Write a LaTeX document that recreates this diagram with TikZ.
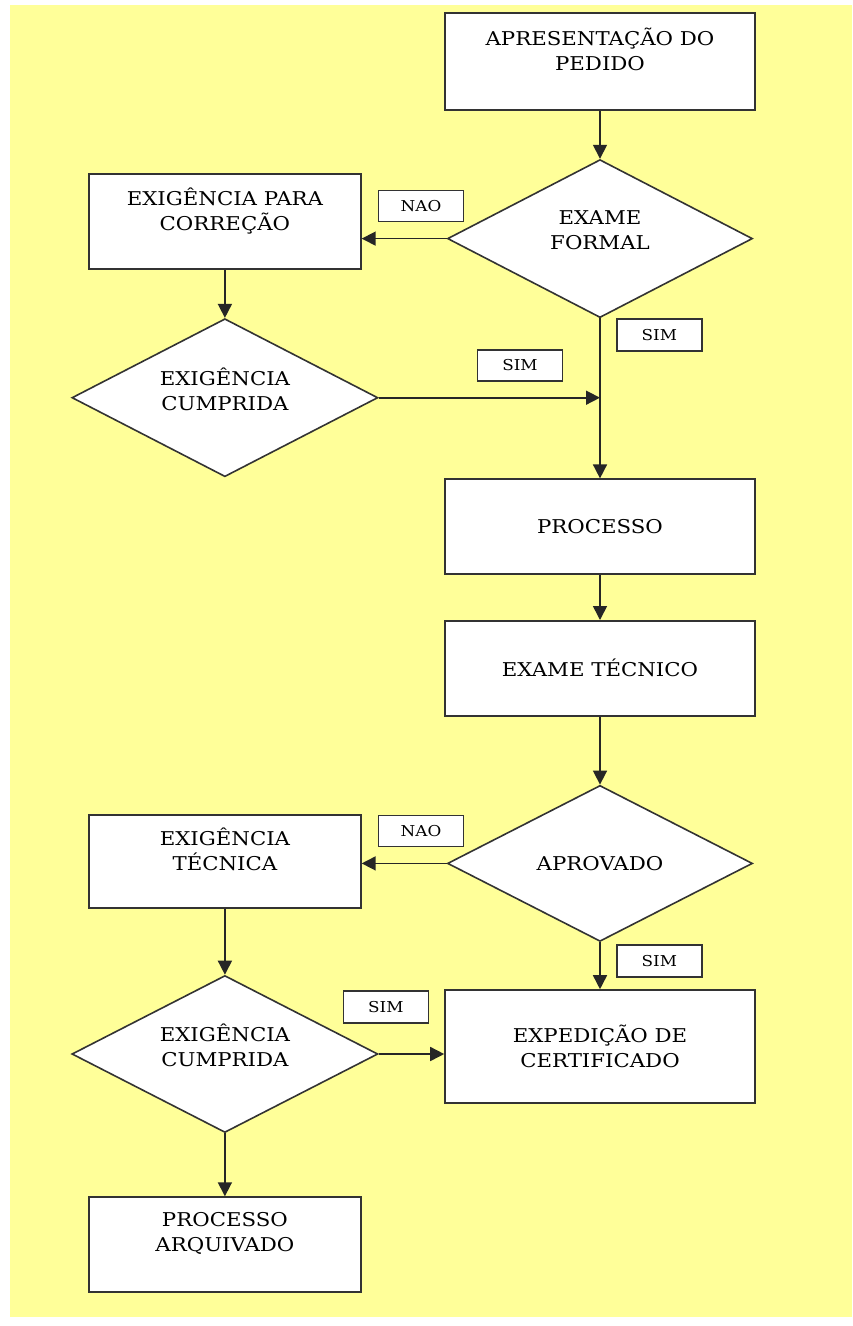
\documentclass[tikz,border=0pt]{standalone}
\usepackage{fontspec}
\setmainfont{DejaVu Serif}[FakeStretch=1.12]
\usepackage{tikz}
\usetikzlibrary{shapes.geometric,arrows.meta}
\usetikzlibrary{positioning}
\definecolor{fundo}{RGB}{255,255,153}
\tikzset{etapa/.style={draw=black!80, line width=1.6pt, fill=white, rectangle, minimum width=310pt, minimum height=95pt, align=center, font=\fontsize{19}{25}\selectfont}}
\tikzset{decisao/.style={draw=black!80, line width=1.6pt, fill=white, diamond, aspect=2, inner sep=0pt, minimum width=305pt, minimum height=158pt, align=center, font=\fontsize{19}{25}\selectfont}}
\tikzset{resposta/.style={draw=black!80, line width=1.6pt, fill=white, rectangle, minimum width=85pt, minimum height=31pt, inner sep=0pt, font=\fontsize{15}{18}\selectfont}}
\tikzset{fluxo/.style={line width=1.6pt, draw=black!85}}

\begin{document}
\begin{tikzpicture}[x=1pt, y=1pt, >={Triangle[length=14pt,width=14pt]}]
\useasboundingbox (0,0) rectangle (852,-1326);
\fill[fundo] (10,-5) rectangle (852,-1317);
% coluna principal
\node[etapa, minimum height=97pt] (pedido) at (600,-61.5) {APRESENTAÇÃO DO\\PEDIDO\\\mbox{}};
\node[decisao, below=48pt of pedido] (exame) {EXAME\\FORMAL\\[-8pt]\mbox{}};
\node[etapa, below=160pt of exame] (processo) {PROCESSO};
\node[etapa, below=45pt of processo] (tecnico) {EXAME TÉCNICO};
\node[decisao, below=68pt of tecnico, minimum height=156pt] (aprovado) {APROVADO};
\node[etapa, below=47pt of aprovado, minimum height=113pt] (expedicao) {EXPEDIÇÃO DE\\CERTIFICADO};
% coluna da esquerda
\node[etapa, left=85pt of exame, yshift=17pt, minimum width=272pt] (correcao) {EXIGÊNCIA PARA\\CORREÇÃO\\\mbox{}};
\node[decisao, below=48pt of correcao, minimum width=306pt] (cumprida1) {EXIGÊNCIA\\CUMPRIDA\\[-8pt]\mbox{}};
\node[etapa, left=85pt of aprovado, yshift=2pt, minimum width=272pt, minimum height=93pt] (exigtec) {EXIGÊNCIA\\TÉCNICA\\\mbox{}};
\node[decisao, below=66pt of exigtec, minimum width=306pt, minimum height=157pt] (cumprida2) {EXIGÊNCIA\\CUMPRIDA\\[-8pt]\mbox{}};
\node[etapa, below=63pt of cumprida2, minimum width=272pt] (arquivado) {PROCESSO\\ARQUIVADO\\\mbox{}};
% respostas
\node[resposta, right=16pt of correcao, yshift=15.5pt] (nao1) {NAO};
\node[resposta, below right=0pt and 16pt of exame.south, minimum height=32pt] (sim1) {SIM};
\node[resposta, above right=16pt and 98pt of cumprida1.east] (sim2) {SIM};
\node[resposta, right=16pt of exigtec, yshift=30.5pt] (nao2) {NAO};
\node[resposta, below right=2pt and 16pt of aprovado.south, minimum height=32pt] (sim3) {SIM};
\node[resposta, below left=1pt and 15pt of expedicao.north west, minimum height=32pt] (sim4) {SIM};
% setas
\draw[fluxo, ->] (pedido) -- (exame);
\draw[fluxo, ->] (exame.west) -- (exame.west -| correcao.east);
\draw[fluxo, ->] (correcao) -- (cumprida1);
\draw[fluxo, ->] (exame.south) -- (processo.north);
\draw[fluxo, ->] (cumprida1.east) -- (cumprida1.east -| exame.south);
\draw[fluxo, ->] (processo) -- (tecnico);
\draw[fluxo, ->] (tecnico) -- (aprovado);
\draw[fluxo, ->] (aprovado.west) -- (aprovado.west -| exigtec.east);
\draw[fluxo, ->] (exigtec) -- (cumprida2);
\draw[fluxo, ->] (aprovado) -- (expedicao);
\draw[fluxo, ->] (cumprida2.east) -- (cumprida2.east -| expedicao.west);
\draw[fluxo, ->] (cumprida2) -- (arquivado);
\end{tikzpicture}
\end{document}
